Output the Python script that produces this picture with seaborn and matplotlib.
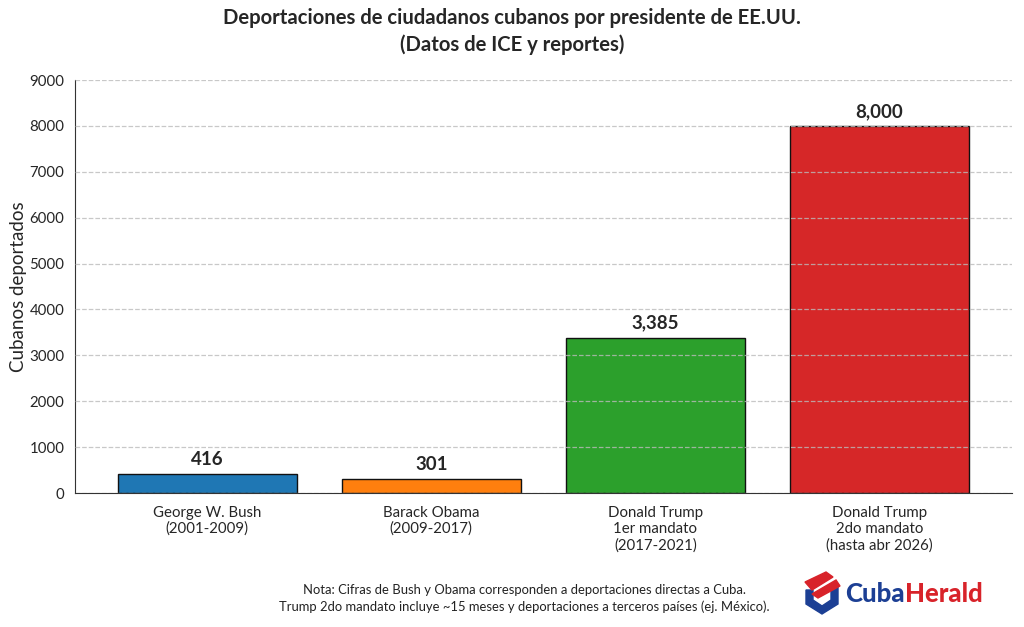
import matplotlib
matplotlib.use('Agg')
import matplotlib.pyplot as plt
from matplotlib.patches import Polygon
import seaborn as sns
import pandas as pd

# Data
presidentes = [
    'George W. Bush\n(2001-2009)',
    'Barack Obama\n(2009-2017)',
    'Donald Trump\n1er mandato\n(2017-2021)',
    'Donald Trump\n2do mandato\n(hasta abr 2026)',
]
deportados = [416, 301, 3385, 8000]
colores = ['#1f77b4', '#ff7f0e', '#2ca02c', '#d62728']
y_ticks = list(range(0, 9001, 1000))

df = pd.DataFrame({'presidente': presidentes, 'deportados': deportados})

sns.set_style('white')
plt.rcParams['font.family'] = ['Lato', 'DejaVu Sans']

fig = plt.figure(figsize=(10.24, 6.27), dpi=100)
ax = fig.add_axes([0.0732, 0.2137, 0.9148, 0.6587])

sns.barplot(data=df, x='presidente', y='deportados', hue='presidente',
            palette=colores, saturation=1, legend=False, edgecolor='#111111',
            linewidth=1, width=0.8, ax=ax)

ax.set_xlim(-0.59, 3.59)
ax.set_ylim(0, 9000)
ax.set_yticks(y_ticks)
ax.tick_params(axis='both', labelsize=10.8, length=4, color='#333333')
ax.tick_params(axis='x', pad=5)
ax.set_xlabel('')
ax.set_ylabel('Cubanos deportados', fontsize=13.5)
ax.yaxis.set_label_coords(-0.051, 0.5)

ax.yaxis.grid(True, linestyle='--', color='#bbbbbb', alpha=0.8, linewidth=0.9)
ax.set_axisbelow(False)
for s in ['top', 'right']:
    ax.spines[s].set_visible(False)
for s in ['left', 'bottom']:
    ax.spines[s].set_color('#333333')

# Value labels
for bar, val in zip(ax.patches, deportados):
    ax.text(bar.get_x() + bar.get_width() / 2, val + 130, f'{val:,}',
            ha='center', va='bottom', fontsize=13.5, fontweight='bold')

fig.text(0.5, 0.987, 'Deportaciones de ciudadanos cubanos por presidente de EE.UU.\n(Datos de ICE y reportes)',
         ha='center', va='top', fontsize=14.6, fontweight='bold', linespacing=1.35)

fig.text(0.512, 0.045,
         'Nota: Cifras de Bush y Obama corresponden a deportaciones directas a Cuba.\n'
         'Trump 2do mandato incluye ~15 meses y deportaciones a terceros países (ej. México).',
         ha='center', va='center', fontsize=9.4, color='#222222', linespacing=1.45)

# Logo (approximate, in pixel-based figure coords)
W, H = 1024, 627
def fp(pts):
    return [[x / W, 1 - y / H] for x, y in pts]

blue = '#1c3f94'
red = '#d8232a'
shield = Polygon(fp([(806, 590), (806, 604), (822, 614), (838, 604), (838, 584),
                     (831, 584), (831, 600), (822, 606), (813, 600), (813, 590)]),
                 closed=True, transform=fig.transFigure, color=blue)
band1 = Polygon(fp([(805, 582), (826, 572), (833, 577), (812, 590)]),
                closed=True, transform=fig.transFigure, color=red)
band2 = Polygon(fp([(812, 594), (836, 580), (840, 586), (818, 598)]),
                closed=True, transform=fig.transFigure, color=red)
fig.patches.extend([shield, band1, band2])
t1 = fig.text(845 / W, 1 - 594 / H, 'Cuba', ha='left', va='center', fontsize=18.5,
              fontweight='black', color=blue)
fig.canvas.draw()
bb = t1.get_window_extent().transformed(fig.transFigure.inverted())
fig.text(bb.x1, 1 - 594 / H, 'Herald', ha='left', va='center', fontsize=18.5,
         fontweight='black', color=red)

fig.savefig('out.png', dpi=100)
